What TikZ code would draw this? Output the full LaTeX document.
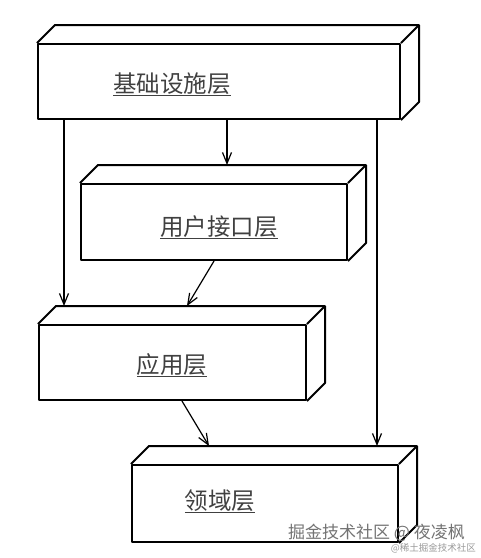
\documentclass[tikz,border=0pt]{standalone}
\usepackage{fontspec}
\newfontfamily\cjk{Noto Sans CJK SC}
\usetikzlibrary{arrows.meta,calc}
\tikzset{
  front/.style={draw=black, line width=2pt, line join=round, minimum width=#1, inner sep=0pt},
  face/.style={draw=black, line width=2pt, line join=round},
  lbl/.style={font=\cjk\fontsize{23.5}{26}\selectfont, text=black!75, anchor=base, inner sep=0pt},
  arr/.style={draw=black, line width=1.2pt, -{Straight Barb[length=11pt,width=9pt,line width=1.2pt]}},
  wm/.style={font=\cjk\fontsize{17}{19}\selectfont, text=black!55, inner sep=0pt},
  wms/.style={font=\cjk\fontsize{9.5}{11}\selectfont, text=black!40, inner sep=0pt},
}
\newcommand{\sidefaces}[1]{%
  \draw[face] (#1.north west) -- ++(18,-18) -- ($(#1.north east)+(18,-18)$) -- ($(#1.south east)+(18,-18)$) -- (#1.south east);
  \draw[face] ($(#1.north east)+(18,-18)$) -- (#1.north east);
}
\begin{document}
\begin{tikzpicture}[x=1pt,y=-1pt]
\useasboundingbox (0,0) rectangle (481,558);
% boxes (front faces)
\node[front=362pt, minimum height=75pt] (b1) at (219,81.5) {};
\node[front=266pt, minimum height=76pt] (b2) at (214,222) {};
\node[front=267pt, minimum height=75pt] (b3) at (172.5,362.5) {};
\node[front=266pt, minimum height=77pt] (b4) at (265,503.5) {};
\sidefaces{b1}
\sidefaces{b2}
\sidefaces{b3}
\sidefaces{b4}
% labels
\node[lbl] (t1) at (172,92) {\underline{基础设施层}};
\node[lbl] (t2) at (219,235) {\underline{用户接口层}};
\node[lbl] (t3) at (172,373) {\underline{应用层}};
\node[lbl] (t4) at (220,509) {\underline{领域层}};
% connectors
\draw[arr] ($(b1.south west)+(27,0)$) -- ($(b3.north west)+(26,-18)$);
\draw[arr] ($(b1.south west)+(190,0)$) -- ($(b2.north west)+(147,-18)$);
\draw[arr] ($(b1.south west)+(340,0)$) -- ($(b4.north west)+(246,-18)$);
\draw[arr] ($(b2.south west)+(134,0)$) -- ($(b3.north west)+(149,-18)$);
\draw[arr] ($(b3.south west)+(144,0)$) -- ($(b4.north west)+(78,-18)$);
% watermark
\node[wm, anchor=east] (w1) at (465,533) {掘金技术社区 @ 夜凌枫};
\node[wms, anchor=east] (w2) at (476,548) {@稀土掘金技术社区};
\end{tikzpicture}
\end{document}
